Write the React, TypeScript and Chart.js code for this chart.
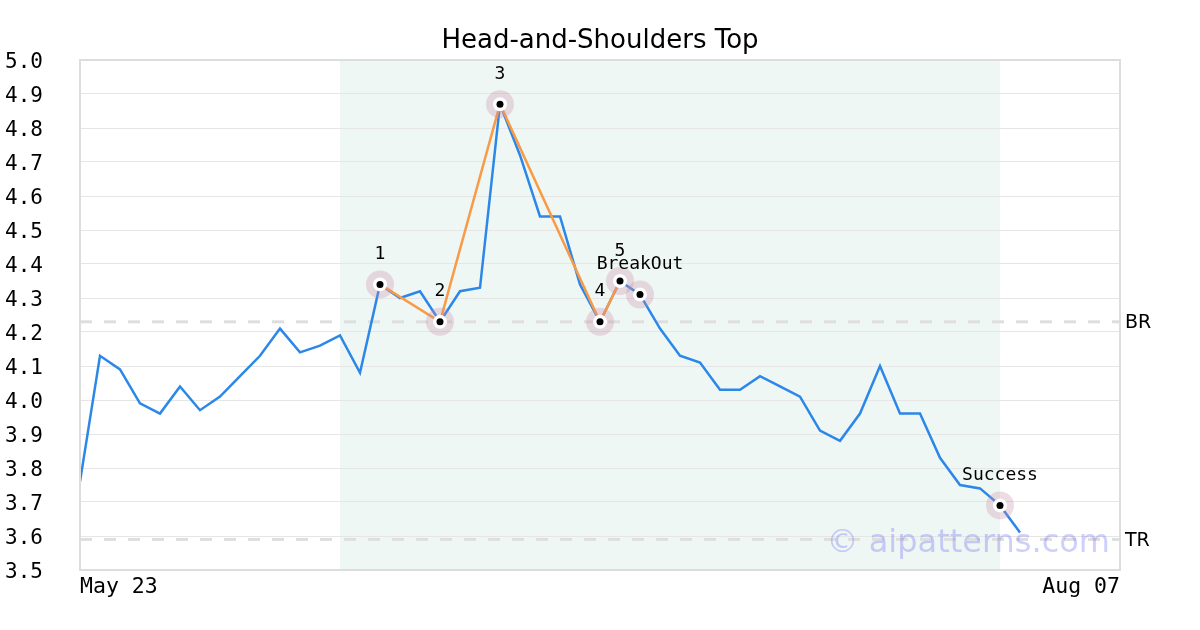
import React, { useEffect, useRef } from 'react';
import { Chart, registerables } from 'chart.js';
Chart.register(...registerables);

const TITLE = 'Head-and-Shoulders Top';

const labels = [
  'May 23', 'May 24', 'May 25', 'May 26', 'May 30', 'May 31',
  'Jun 01', 'Jun 02', 'Jun 05', 'Jun 06', 'Jun 07', 'Jun 08', 'Jun 09',
  'Jun 12', 'Jun 13', 'Jun 14', 'Jun 15', 'Jun 16', 'Jun 19', 'Jun 20',
  'Jun 21', 'Jun 22', 'Jun 23', 'Jun 26', 'Jun 27', 'Jun 28', 'Jun 29', 'Jun 30',
  'Jul 03', 'Jul 05', 'Jul 06', 'Jul 07', 'Jul 10', 'Jul 11', 'Jul 12', 'Jul 13',
  'Jul 14', 'Jul 17', 'Jul 18', 'Jul 19', 'Jul 20', 'Jul 21', 'Jul 24', 'Jul 25',
  'Jul 26', 'Jul 27', 'Jul 28', 'Jul 31', 'Aug 01', 'Aug 02', 'Aug 03', 'Aug 04', 'Aug 07',
];

const prices = [
  3.76, 4.13, 4.09, 3.99, 3.96, 4.04, 3.97, 4.01, 4.07, 4.13,
  4.21, 4.14, 4.16, 4.19, 4.08, 4.34, 4.30, 4.32, 4.23, 4.32,
  4.33, 4.87, 4.72, 4.54, 4.54, 4.34, 4.23, 4.35, 4.31, 4.21,
  4.13, 4.11, 4.03, 4.03, 4.07, 4.04, 4.01, 3.91, 3.88, 3.96,
  4.10, 3.96, 3.96, 3.83, 3.75, 3.74, 3.69, 3.61,
];

const patternIdx = [15, 18, 21, 26, 27];
const markerIdx = [15, 18, 21, 26, 27, 28, 46];
const markerText = ['1', '2', '3', '4', '5', 'BreakOut', 'Success'];
const shadeRange = [13, 46];
const levelValues = [4.23, 3.59];
const levelNames = ['BR', 'TR'];
const yTicksMin = 3.5;
const yTicksMax = 5.0;
const WATERMARK = '© aipatterns.com';

const MONO = "'DejaVu Sans Mono', monospace";
const SANS = "'DejaVu Sans', sans-serif";

export default function App() {
  const ref = useRef<HTMLCanvasElement>(null);
  useEffect(() => {
    document.body.style.margin = '0';
    const patternData = labels.map((_, i) => (patternIdx.includes(i) ? prices[i] : null));
    const markerData = labels.map((_, i) => (markerIdx.includes(i) ? prices[i] : null));

    const overlay = {
      id: 'overlay',
      beforeDraw(chart: any) {
        const { ctx, chartArea, scales } = chart;
        const x = scales.x;
        const x0 = x.getPixelForValue(shadeRange[0]);
        const x1 = x.getPixelForValue(shadeRange[1]);
        ctx.save();
        ctx.fillStyle = '#eff7f4';
        ctx.fillRect(x0, chartArea.top, x1 - x0, chartArea.bottom - chartArea.top);
        ctx.restore();
      },
      beforeDatasetsDraw(chart: any) {
        const { ctx, chartArea, scales } = chart;
        ctx.save();
        ctx.strokeStyle = '#dedede';
        ctx.lineWidth = 3;
        ctx.setLineDash([12, 12]);
        levelValues.forEach((v) => {
          const y = scales.y.getPixelForValue(v);
          ctx.beginPath();
          ctx.moveTo(chartArea.left, y);
          ctx.lineTo(chartArea.right, y);
          ctx.stroke();
        });
        ctx.restore();
      },
      afterDraw(chart: any) {
        const { ctx, chartArea, scales } = chart;
        ctx.save();
        ctx.strokeStyle = '#dddddd';
        ctx.lineWidth = 2;
        ctx.strokeRect(chartArea.left, chartArea.top, chartArea.right - chartArea.left, chartArea.bottom - chartArea.top);
        const meta = chart.getDatasetMeta(0);
        ctx.fillStyle = '#000';
        ctx.font = `18px ${MONO}`;
        ctx.textAlign = 'center';
        ctx.textBaseline = 'middle';
        markerIdx.forEach((idx, k) => {
          const el = meta.data[idx];
          if (!el) return;
          ctx.fillText(markerText[k], el.x, el.y - 30);
        });
        ctx.font = `19px ${SANS}`;
        ctx.textAlign = 'left';
        levelValues.forEach((v, k) => {
          ctx.fillText(levelNames[k], chartArea.right + 5, scales.y.getPixelForValue(v) + 1.5);
        });
        ctx.font = `32px ${SANS}`;
        ctx.textAlign = 'right';
        ctx.textBaseline = 'alphabetic';
        ctx.fillStyle = 'rgba(110,110,245,0.33)';
        ctx.fillText(WATERMARK, chartArea.right - 10, 552);
        ctx.restore();
      },
    };

    const chart = new Chart(ref.current!, {
      type: 'line',
      data: {
        labels,
        datasets: [
          {
            data: markerData,
            showLine: false,
            pointRadius: 3.5,
            pointHoverRadius: 3.5,
            pointBackgroundColor: '#000',
            pointBorderWidth: 0,
            order: 0,
          },
          {
            data: markerData,
            showLine: false,
            pointRadius: 7,
            pointHoverRadius: 7,
            pointBackgroundColor: '#fff',
            pointBorderWidth: 0,
            order: 1,
          },
          {
            data: markerData,
            showLine: false,
            pointRadius: 14,
            pointHoverRadius: 14,
            pointBackgroundColor: 'rgba(200,140,165,0.3)',
            pointBorderWidth: 0,
            order: 2,
          },
          {
            data: patternData,
            spanGaps: true,
            borderColor: '#f99a46',
            borderWidth: 2.5,
            pointRadius: 0,
            tension: 0,
            order: 3,
          },
          {
            data: prices,
            borderColor: '#2b87e8',
            borderWidth: 2.5,
            pointRadius: 0,
            tension: 0,
            order: 4,
          },
        ],
      } as any,
      options: {
        responsive: false,
        animation: false,
        events: [],
        layout: { padding: { left: 5, right: 80, top: 0, bottom: 0 } },
        plugins: {
          legend: { display: false },
          tooltip: { enabled: false },
          title: {
            display: true,
            text: TITLE,
            fullSize: false,
            color: '#000',
            font: { family: SANS, size: 26, weight: 'normal' as any, lineHeight: 1.2 },
            padding: { top: 26, bottom: 2.8 },
          },
        },
        scales: {
          x: {
            type: 'category',
            offset: false,
            grid: { display: false, drawTicks: false },
            border: { display: false },
            ticks: {
              autoSkip: false,
              maxRotation: 0,
              minRotation: 0,
              align: 'inner',
              padding: 5,
              color: '#000',
              font: { family: MONO, size: 21.5 },
              callback: (_v: any, i: number, ticks: any[]) =>
                i === 0 || i === ticks.length - 1 ? labels[i] : '',
            },
            afterFit: (s: any) => {
              s.height = 60;
            },
          },
          y: {
            min: yTicksMin,
            max: yTicksMax,
            grid: { color: '#e6e6e6', lineWidth: 1, drawTicks: false },
            border: { display: false },
            ticks: {
              stepSize: 0.1,
              crossAlign: 'far',
              labelOffset: 3,
              color: '#000',
              font: { family: MONO, size: 21 },
              callback: (v: any) => Number(v).toFixed(1),
            },
            afterFit: (s: any) => {
              s.width = 75;
            },
          },
        },
      } as any,
      plugins: [overlay],
    });
    return () => chart.destroy();
  }, []);
  return (
    <div style={{ width: 1200, height: 630 }}>
      <canvas ref={ref} width={1200} height={630} style={{ display: 'block' }} />
    </div>
  );
}
